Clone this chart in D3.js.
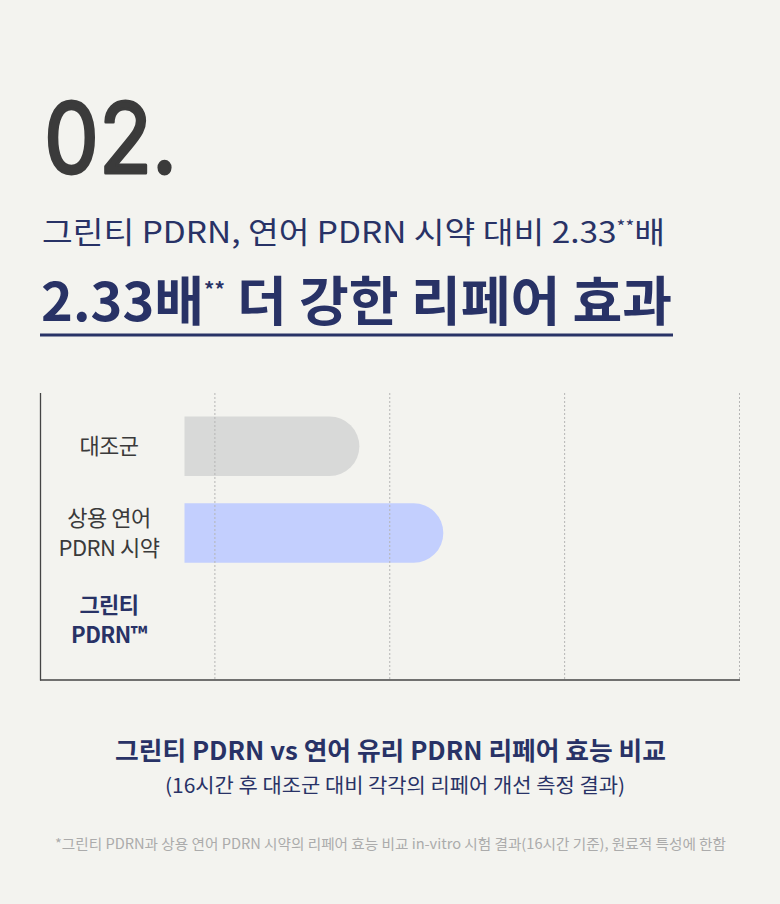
<!DOCTYPE html>
<html>
<head>
<meta charset="utf-8">
<script src="https://cdn.jsdelivr.net/npm/d3@7"></script>
<style>
  body { margin: 0; background: #f3f3ef; }
  svg { display: block; }
</style>
</head>
<body>
<script>
// chart data
var categories = ["대조군", "상용 연어 PDRN 시약", "그린티 PDRN™"];
var labelLines = [["대조군"], ["상용 연어", "PDRN 시약"], ["그린티", "PDRN™"]];
var repairValues = [1.0, 1.48, 0];   // 그린티 bar is not drawn in the picture
var gridTicks = [1, 2, 3, 4];

var navy = "#283266";
var krFont = "'Noto Sans CJK KR', 'Noto Sans', sans-serif";

var width = 780, height = 904;

var svg = d3.select("body").append("svg")
  .attr("width", width)
  .attr("height", height);

svg.append("rect")
  .attr("width", width)
  .attr("height", height)
  .attr("fill", "#f3f3ef");

// heading
svg.append("text")
  .attr("x", 44)
  .attr("y", 173)
  .attr("font-family", "Inter, Lato, sans-serif")
  .attr("font-weight", 400)
  .attr("font-size", 97)
  .attr("fill", "#3b3b3b")
  .attr("stroke", "#3b3b3b")
  .attr("stroke-width", 3)
  .attr("stroke-linejoin", "round")
  .attr("textLength", 133)
  .attr("lengthAdjust", "spacingAndGlyphs")
  .text("02.");

var sub1 = svg.append("text")
  .attr("x", 42)
  .attr("y", 243)
  .attr("font-family", krFont)
  .attr("font-size", 30)
  .attr("fill", navy)
  .attr("textLength", 623)
  .attr("lengthAdjust", "spacingAndGlyphs");
sub1.append("tspan").text("그린티 PDRN, 연어 PDRN 시약 대비 2.33");
sub1.append("tspan").attr("font-size", 17).attr("dy", -10).text("**");
sub1.append("tspan").attr("dy", 10).text("배");

var sub2 = svg.append("text")
  .attr("x", 41)
  .attr("y", 321)
  .attr("font-family", krFont)
  .attr("font-weight", 700)
  .attr("font-size", 53)
  .attr("fill", navy)
  .attr("textLength", 631)
  .attr("lengthAdjust", "spacingAndGlyphs");
sub2.append("tspan").text("2.33배");
sub2.append("tspan").attr("font-size", 20).attr("dy", -24).text("**");
sub2.append("tspan").attr("dy", 24).text(" 더 강한 리페어 효과");

svg.append("rect")
  .attr("x", 40)
  .attr("y", 333.5)
  .attr("width", 633)
  .attr("height", 3)
  .attr("fill", navy);

// chart
var y = d3.scaleBand()
  .domain(d3.range(categories.length))
  .range([403, 663]);

var xGrid = d3.scaleLinear()
  .domain([0, 4])
  .range([40, 739.5]);

var xBar = d3.scaleLinear()
  .domain([0, 4])
  .range([184.5, 184.5 + 699.5]);

var barH = 59.5;
var barColors = ["#d8d9d8", "#c3cffe", "#283266"];

function barPath(d, i) {
  var x0 = xBar(0), x1 = xBar(d);
  var y0 = y(i) + (y.bandwidth() - barH) / 2;
  var r = barH / 2;
  if (x1 - x0 <= r) return null;
  return "M" + x0 + "," + y0 +
    "H" + (x1 - r) +
    "A" + r + "," + r + " 0 0 1 " + (x1 - r) + "," + (y0 + barH) +
    "H" + x0 + "Z";
}

svg.append("g")
  .attr("class", "bars")
  .selectAll("path")
  .data(repairValues)
  .enter()
  .append("path")
  .attr("d", barPath)
  .attr("fill", function(d, i) { return barColors[i]; });

// dashed grid on top of bars
svg.append("g")
  .attr("class", "grid")
  .selectAll("line")
  .data(gridTicks)
  .enter()
  .append("line")
  .attr("x1", function(d) { return xGrid(d); })
  .attr("x2", function(d) { return xGrid(d); })
  .attr("y1", 393)
  .attr("y2", 679)
  .attr("stroke", "#b5b5b5")
  .attr("stroke-width", 1)
  .attr("stroke-dasharray", "2,2");

// axes
svg.append("line")
  .attr("x1", 40.5).attr("x2", 40.5)
  .attr("y1", 393).attr("y2", 680.5)
  .attr("stroke", "#444").attr("stroke-width", 1.3);
svg.append("line")
  .attr("x1", 40).attr("x2", 740)
  .attr("y1", 680).attr("y2", 680)
  .attr("stroke", "#444").attr("stroke-width", 1.5);

// category labels
var labels = svg.append("g")
  .attr("class", "labels")
  .selectAll("text")
  .data(labelLines)
  .enter()
  .append("text")
  .attr("x", 109)
  .attr("text-anchor", "middle")
  .attr("font-family", krFont)
  .attr("font-size", 22)
  .attr("font-weight", function(d, i) { return i === 2 ? 700 : 400; })
  .attr("fill", function(d, i) { return i === 2 ? navy : "#3a3a3a"; })
  .attr("letter-spacing", -0.5);

labels.each(function(lines, i) {
  var cy = y(i) + y.bandwidth() / 2;
  var top = cy - (lines.length - 1) * 15 + 8;
  d3.select(this).selectAll("tspan")
    .data(lines)
    .enter()
    .append("tspan")
    .attr("x", 109)
    .attr("y", function(d, j) { return top + j * 30; })
    .text(function(d) { return d; });
});

// captions
svg.append("text")
  .attr("x", 390.5)
  .attr("y", 760)
  .attr("text-anchor", "middle")
  .attr("font-family", krFont)
  .attr("font-weight", 700)
  .attr("font-size", 25)
  .attr("fill", navy)
  .attr("textLength", 551)
  .attr("lengthAdjust", "spacingAndGlyphs")
  .text("그린티 PDRN vs 연어 유리 PDRN 리페어 효능 비교");

svg.append("text")
  .attr("x", 395)
  .attr("y", 793)
  .attr("text-anchor", "middle")
  .attr("font-family", krFont)
  .attr("font-size", 20)
  .attr("fill", navy)
  .attr("textLength", 460)
  .attr("lengthAdjust", "spacingAndGlyphs")
  .text("(16시간 후 대조군 대비 각각의 리페어 개선 측정 결과)");

svg.append("text")
  .attr("x", 390.5)
  .attr("y", 849)
  .attr("text-anchor", "middle")
  .attr("font-family", krFont)
  .attr("font-size", 14)
  .attr("fill", "#ababab")
  .attr("textLength", 671)
  .attr("lengthAdjust", "spacingAndGlyphs")
  .text("*그린티 PDRN과 상용 연어 PDRN 시약의 리페어 효능 비교 in-vitro 시험 결과(16시간 기준), 원료적 특성에 한함");
</script>
</body>
</html>
